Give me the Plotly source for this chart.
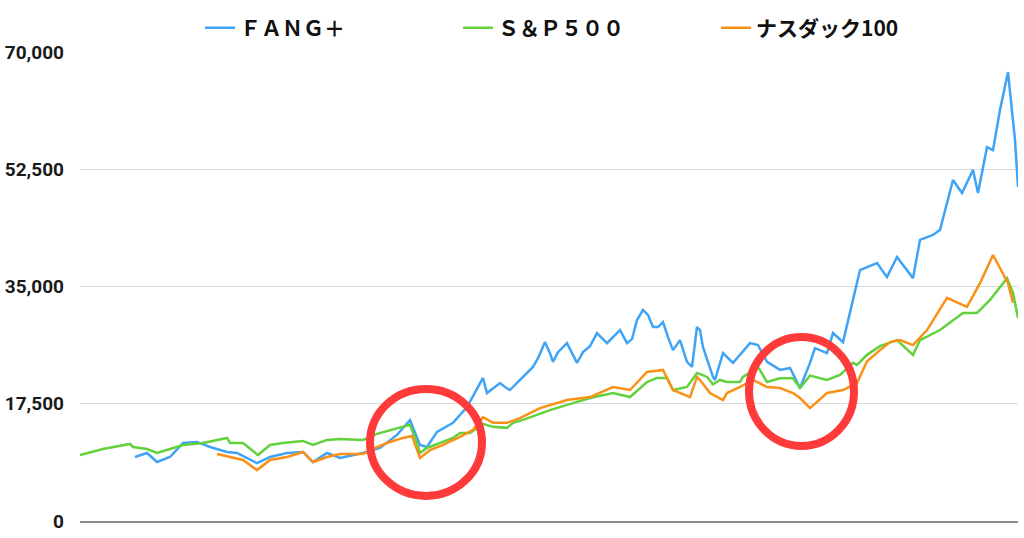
import plotly.graph_objects as go

# time index (weeks from start of S&P series) and values
sp_t = [0, 23, 50, 53, 67, 77, 90, 103, 123, 147, 150, 163, 178, 190, 203, 223, 233, 247,
        260, 283, 297, 317, 325, 330, 337, 340, 347, 360, 373, 380, 390, 403, 413, 427, 433,
        443, 470, 493, 510, 533, 550, 567, 577, 587, 593, 607, 617, 627, 633, 640, 647, 660,
        663, 678, 687, 700, 713, 720, 730, 747, 760, 773, 777, 787, 800, 817, 833, 840, 860,
        883, 897, 910, 927, 933, 938]
sp_v = [9850, 10750, 11500, 11050, 10750, 10150, 10750, 11350, 11650, 12400, 11650, 11650,
        9850, 11350, 11650, 11950, 11350, 12100, 12250, 12100, 13000, 13750, 14050, 14350,
        11650, 10150, 10900, 11650, 12400, 13150, 13150, 14500, 14050, 13900, 14650, 15100,
        16550, 17600, 18350, 19100, 18500, 20750, 21350, 21350, 19550, 20000, 22100, 21500,
        20400, 21050, 20750, 20750, 21500, 23000, 20750, 21300, 21300, 19850, 21700, 21050,
        21800, 23600, 23300, 24800, 26100, 27000, 24800, 27000, 28500, 31050, 31050, 33000,
        36250, 34050, 30300]

ndq_t = [137, 150, 163, 177, 190, 207, 223, 233, 247, 260, 283, 293, 307, 323, 332, 340,
         350, 363, 380, 393, 403, 413, 427, 440, 460, 487, 510, 533, 550, 567, 583, 593, 610,
         617, 620, 630, 643, 647, 660, 673, 687, 700, 713, 720, 730, 747, 763, 777, 787, 800,
         810, 820, 833, 847, 860, 867, 887, 900, 913, 928, 933, 938]
ndq_v = [10000, 9550, 9100, 7600, 9100, 9550, 10300, 8800, 9550, 10000, 10000, 10750, 11650,
         12400, 12700, 9400, 10600, 11350, 12550, 13600, 15500, 14650, 14650, 15350, 16850,
         18050, 18500, 20000, 19550, 22250, 22550, 19550, 18500, 21500, 21050, 19100, 18050,
         19100, 20000, 21050, 20000, 19850, 19100, 18350, 16850, 19100, 19550, 20600, 23850,
         25500, 26700, 27000, 26250, 28500, 31500, 33300, 31950, 35500, 39700, 35500, 32550]

fang_t = [55, 67, 77, 90, 103, 117, 130, 147, 157, 177, 190, 207, 223, 233, 247, 260, 283,
          300, 317, 330, 340, 347, 357, 373, 387, 400, 403, 407, 420, 425, 430, 435, 440, 447,
          453, 458, 465, 470, 473, 478, 487, 492, 497, 503, 510, 517, 522, 527, 533, 540, 547,
          552, 557, 563, 568, 573, 578, 583, 588, 593, 600, 607, 612, 617, 620, 623, 633, 635,
          643, 653, 670, 678, 687, 700, 710, 720, 730, 735, 747, 753, 763, 768, 773, 780, 797,
          807, 817, 833, 840, 853, 860, 867, 873, 882, 893, 898, 907, 913, 920, 928, 932, 935,
          938]
fang_v = [9550, 10150, 8800, 9550, 11650, 11800, 11050, 10300, 10150, 8650, 9550, 10150,
          10300, 8800, 10150, 9400, 10150, 10900, 12850, 15050, 11350, 11050, 13300, 14650,
          17000, 20600, 21350, 19100, 20600, 20000, 19550, 20300, 21050, 22250, 23000, 24300,
          26700, 25050, 23750, 25200, 26550, 25050, 23600, 25200, 26100, 28050, 27300, 26550,
          27450, 28500, 26550, 27150, 30000, 31500, 30750, 28950, 28950, 29700, 27450, 25500,
          27000, 23750, 23000, 28950, 28500, 25950, 21500, 21050, 25050, 23600, 26550, 26250,
          23750, 22550, 22850, 19850, 23600, 25800, 25050, 28050, 26700, 30000, 33000, 37450,
          38500, 36400, 39400, 36250, 41950, 42700, 43450, 47450, 50900, 48950, 52400, 48950,
          55800, 55350, 61350, 67000, 60900, 56850, 49850]

y_ticks = [0, 17500, 35000, 52500, 70000]
names = ["ＦＡＮＧ＋", "Ｓ＆Ｐ５００", "ナスダック100"]
colors = ["#3FA3F6", "#62D13D", "#FA9015"]

fig = go.Figure()
fig.add_trace(go.Scatter(x=fang_t, y=fang_v, mode="lines", name=names[0],
                         line=dict(color=colors[0], width=2.5)))
fig.add_trace(go.Scatter(x=sp_t, y=sp_v, mode="lines", name=names[1],
                         line=dict(color=colors[1], width=2.5)))
fig.add_trace(go.Scatter(x=ndq_t, y=ndq_v, mode="lines", name=names[2],
                         line=dict(color=colors[2], width=2.5)))

# red highlight circles (annotations on the chart)
for (x0, x1, y0, y1) in [(290, 402, 3750, 19700), (669, 774, 11200, 27450)]:
    fig.add_shape(type="circle", xref="x", yref="y", x0=x0, x1=x1, y0=y0, y1=y1,
                  line=dict(color="#FF3A3A", width=8))

fig.update_layout(
    width=1024, height=538,
    margin=dict(l=80, r=6, t=52, b=17),
    plot_bgcolor="white", paper_bgcolor="white",
    showlegend=True,
    legend=dict(orientation="h", x=0.128, xanchor="left", y=1.051, yanchor="middle",
                font=dict(family="Noto Sans CJK JP", size=21, color="#111111", weight="bold"),
                entrywidth=213, entrywidthmode="pixels"),
    xaxis=dict(range=[0, 938], showgrid=False, showticklabels=False, zeroline=False,
               showline=True, linecolor="#8C8C8C", linewidth=2, fixedrange=True),
    yaxis=dict(range=[0, 70000], tickvals=y_ticks, tickformat=",", showgrid=True,
               gridcolor="#D9D9D9", gridwidth=1, zeroline=False, showline=False,
               ticklabelstandoff=15,
               tickfont=dict(family="Roboto", size=19, color="#1A1A1A", weight="bold")),
)

fig.write_html("out.html", config={"displayModeBar": False},
               post_script="document.body.style.margin='0';")
